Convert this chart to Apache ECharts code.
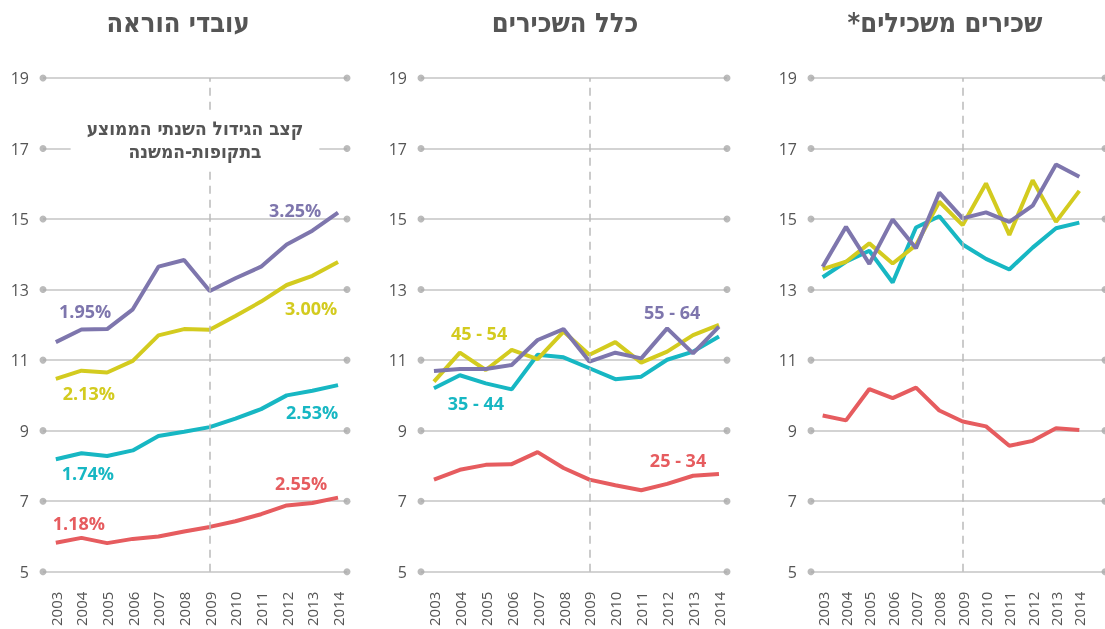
<!DOCTYPE html>
<html>
<head>
<meta charset="utf-8">
<script src="https://cdn.jsdelivr.net/npm/echarts@6/dist/echarts.min.js"></script>
<style>
  html, body { margin: 0; padding: 0; background: #fff; }
  #chart { width: 1105px; height: 629px; }
  /* overlapping lines darken like in the print version */
  #chart path[stroke="#e65c5f"], #chart path[stroke="#17b7c3"],
  #chart path[stroke="#d3cb1f"], #chart path[stroke="#7e76ad"] { mix-blend-mode: multiply; }
</style>
</head>
<body>
<div id="chart"></div>
<script>
var years = [2003, 2004, 2005, 2006, 2007, 2008, 2009, 2010, 2011, 2012, 2013, 2014];
var yTicks = [5, 7, 9, 11, 13, 15, 17, 19];
var splitYear = 2009;

// עובדי הוראה
var teach25 = [5.82, 5.96, 5.81, 5.93, 6.00, 6.14, 6.27, 6.43, 6.63, 6.88, 6.95, 7.10];
var teach35 = [8.19, 8.36, 8.28, 8.44, 8.85, 8.97, 9.10, 9.34, 9.61, 10.00, 10.13, 10.29];
var teach45 = [10.47, 10.70, 10.65, 10.98, 11.70, 11.88, 11.86, 12.25, 12.66, 13.13, 13.39, 13.78];
var teach55 = [11.51, 11.87, 11.88, 12.44, 13.65, 13.84, 12.96, 13.32, 13.65, 14.28, 14.67, 15.18];

// כלל השכירים
var all25 = [7.61, 7.89, 8.03, 8.05, 8.39, 7.94, 7.61, 7.45, 7.31, 7.49, 7.72, 7.77];
var all35 = [10.20, 10.57, 10.34, 10.17, 11.15, 11.08, 10.77, 10.46, 10.53, 11.01, 11.24, 11.67];
var all45 = [10.39, 11.21, 10.72, 11.29, 11.03, 11.81, 11.15, 11.51, 10.93, 11.24, 11.71, 12.00];
var all55 = [10.69, 10.75, 10.75, 10.86, 11.57, 11.88, 10.96, 11.21, 11.05, 11.90, 11.19, 11.95];

// שכירים משכילים
var edu25 = [9.43, 9.29, 10.18, 9.92, 10.22, 9.57, 9.26, 9.12, 8.57, 8.71, 9.07, 9.02];
var edu35 = [13.35, 13.79, 14.10, 13.20, 14.76, 15.08, 14.28, 13.87, 13.57, 14.19, 14.74, 14.90];
var edu45 = [13.58, 13.79, 14.31, 13.74, 14.26, 15.49, 14.83, 16.01, 14.55, 16.10, 14.92, 15.80];
var edu55 = [13.65, 14.78, 13.73, 14.99, 14.17, 15.75, 15.02, 15.19, 14.92, 15.38, 16.55, 16.20];

var colors = ['#e65c5f', '#17b7c3', '#d3cb1f', '#7e76ad'];

// growth rate labels (left panel) and age group labels (middle panel)
var teachNotes = [
    ['1.18%', 2003.9, 6.39, 0], ['2.55%', 2012.56, 7.52, 0],
    ['1.74%', 2004.25, 7.81, 1], ['2.53%', 2012.99, 9.53, 1],
    ['2.13%', 2004.29, 10.07, 2], ['3.00%', 2012.95, 12.48, 2],
    ['1.95%', 2004.14, 12.40, 3], ['3.25%', 2012.33, 15.26, 3]
];
var allNotes = [
    ['25 - 34', 2012.42, 8.17, 0], ['35 - 44', 2004.62, 9.79, 1],
    ['45 - 54', 2004.74, 11.77, 2], ['55 - 64', 2012.19, 12.37, 3]
];

var panels = [
    { title: 'עובדי הוראה', center: 178, left: 43, width: 304, xMax: 2014.35, lines: [teach25, teach35, teach45, teach55], notes: teachNotes },
    { title: 'כלל השכירים', center: 565, left: 421, width: 306, xMax: 2014.31, lines: [all25, all35, all45, all55], notes: allNotes },
    { title: '*שכירים משכילים', center: 945, left: 811, width: 300, xMax: 2015.1, lines: [edu25, edu35, edu45, edu55], notes: [] }
];

var xMin = 2002.5;
var grids = [], xAxes = [], yAxes = [], series = [], graphics = [];

panels.forEach(function (p, i) {
    grids.push({ left: p.left, width: p.width, top: 78, bottom: 57 });
    xAxes.push({
        type: 'value', gridIndex: i, min: xMin, max: p.xMax, interval: 0.5,
        axisLine: { show: false }, axisTick: { show: false }, splitLine: { show: false },
        axisLabel: {
            rotate: 90, margin: 20, color: '#555', fontSize: 15, fontFamily: 'Open Sans',
            formatter: function (v) {
                var r = Math.round(v);
                return (Math.abs(v - r) < 1e-6 && years.indexOf(r) >= 0) ? String(r) : '';
            }
        }
    });
    yAxes.push({
        type: 'value', gridIndex: i, min: 5, max: 19, interval: 2,
        axisLine: { show: false }, axisTick: { show: false },
        axisLabel: { margin: 14, color: '#555', fontSize: 16, fontFamily: 'Open Sans' },
        splitLine: { lineStyle: { color: '#c4c4c4', width: 1.5 } }
    });

    // dots at the ends of the grid lines
    var dots = [];
    yTicks.forEach(function (t) { dots.push([xMin, t]); dots.push([p.xMax, t]); });
    series.push({
        type: 'scatter', xAxisIndex: i, yAxisIndex: i, data: dots, clip: false, silent: true,
        symbolSize: 7, itemStyle: { color: '#aaa' }, z: 1,
        markLine: {
            silent: true, symbol: 'none', label: { show: false },
            lineStyle: { color: '#bbb', type: [8, 6], width: 1.5 },
            data: [{ xAxis: splitYear }]
        }
    });

    p.lines.forEach(function (arr, k) {
        var notes = p.notes.filter(function (n) { return n[3] === k; });
        series.push({
            type: 'line', xAxisIndex: i, yAxisIndex: i, silent: true,
            data: years.map(function (y, j) { return [y, arr[j]]; }),
            symbol: 'none', z: 3,
            lineStyle: { color: colors[k], width: 4 },
            itemStyle: { color: colors[k] },
            markPoint: {
                silent: true, symbol: 'circle', symbolSize: 1,
                itemStyle: { color: 'rgba(0,0,0,0)' },
                data: notes.map(function (n) {
                    return {
                        coord: [n[1], n[2]],
                        label: {
                            show: true, position: 'inside', formatter: n[0],
                            color: colors[k], fontSize: 18, fontWeight: 'bold', fontFamily: 'Open Sans'
                        }
                    };
                })
            }
        });
    });

    graphics.push({
        type: 'text', x: p.center, y: 22, z: 10,
        style: {
            text: p.title, fill: '#555', font: 'bold 27px "DejaVu Sans Condensed", "DejaVu Sans"',
            textAlign: 'center', textVerticalAlign: 'middle'
        }
    });
});

// annotation box in the left panel
graphics.push({
    type: 'text', x: 195, y: 139, z: 10,
    style: {
        text: 'קצב הגידול השנתי הממוצע\nבתקופות-המשנה', fill: '#555',
        font: 'bold 19px "DejaVu Sans Condensed", "DejaVu Sans"', lineHeight: 23,
        textAlign: 'center', textVerticalAlign: 'middle',
        backgroundColor: '#fff', padding: [4, 16]
    }
});

var myChart = echarts.init(document.getElementById('chart'), null, { renderer: 'svg' });
myChart.setOption({
    animation: false,
    grid: grids,
    xAxis: xAxes,
    yAxis: yAxes,
    series: series,
    graphic: graphics
});
</script>
</body>
</html>
